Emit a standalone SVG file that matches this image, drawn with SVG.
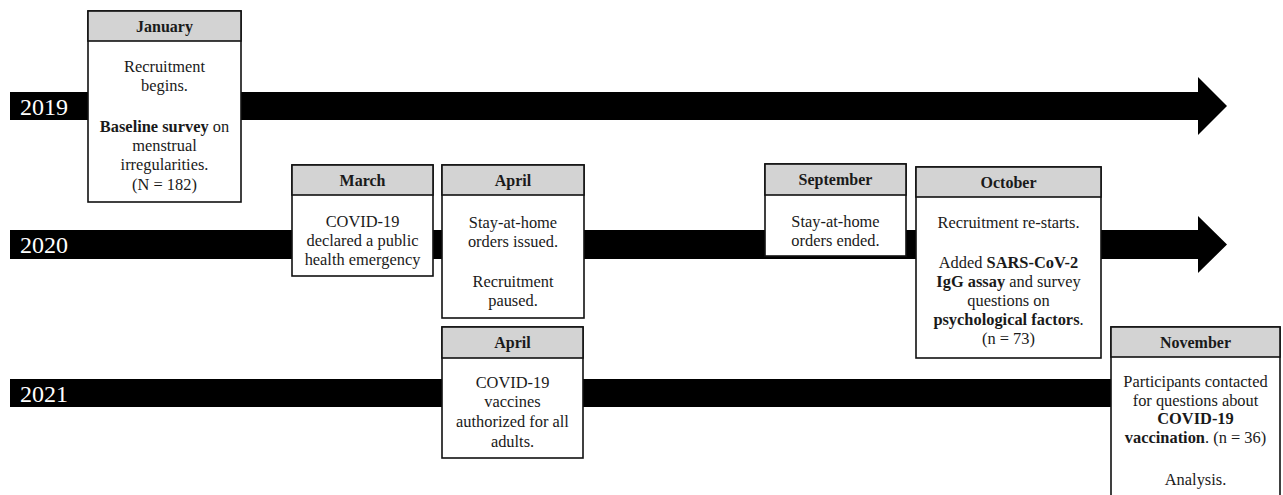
<svg xmlns="http://www.w3.org/2000/svg" width="1283" height="495" viewBox="0 0 1283 495">
<style>
.box{fill:#fff;stroke:#111;stroke-width:1.6}
.hdr{fill:#d3d3d3;stroke:#111;stroke-width:1.6}
text{font-family:'Liberation Serif','Tinos','Times New Roman','DejaVu Serif',serif}
.t{font-size:16.4px;fill:#1a1a1a;text-anchor:middle}
.h{font-size:16px;font-weight:bold;fill:#1a1a1a;text-anchor:middle}
.yr{font-size:24px;fill:#fff}
.b{font-weight:bold}
.bar{fill:#000}
</style>
<rect width="1283" height="495" fill="#fff"/>
<g id="connectors">
  <polygon class="bar" points="10,92 1198,92 1198,77 1227,106 1198,135 1198,120 10,120"/>
  <polygon class="bar" points="10,230 1198,230 1198,216 1227,244.5 1198,273 1198,259 10,259"/>
  <rect class="bar" x="10" y="379" width="1105" height="28"/>
  <text class="yr" x="20" y="115">2019</text>
  <text class="yr" x="20" y="253">2020</text>
  <text class="yr" x="20" y="402">2021</text>
</g>
<g id="january">
  <rect class="box" x="88" y="11" width="153" height="191"/>
  <rect class="hdr" x="88" y="11" width="153" height="30"/>
  <text class="h" x="164.5" y="32">January</text>
  <text class="t" x="164.5" y="72">Recruitment</text>
  <text class="t" x="164.5" y="91">begins.</text>
  <text class="t" x="164.5" y="132"><tspan class="b">Baseline survey</tspan> on</text>
  <text class="t" x="164.5" y="151">menstrual</text>
  <text class="t" x="164.5" y="170">irregularities.</text>
  <text class="t" x="164.5" y="190">(N = 182)</text>
</g>
<g id="march">
  <rect class="box" x="292" y="165" width="141" height="111"/>
  <rect class="hdr" x="292" y="165" width="141" height="30"/>
  <text class="h" x="362.5" y="186">March</text>
  <text class="t" x="362.5" y="227">COVID-19</text>
  <text class="t" x="362.5" y="246">declared a public</text>
  <text class="t" x="362.5" y="265">health emergency</text>
</g>
<g id="april2020">
  <rect class="box" x="442" y="165" width="142" height="153"/>
  <rect class="hdr" x="442" y="165" width="142" height="30"/>
  <text class="h" x="513" y="186">April</text>
  <text class="t" x="513" y="228">Stay-at-home</text>
  <text class="t" x="513" y="247">orders issued.</text>
  <text class="t" x="513" y="287">Recruitment</text>
  <text class="t" x="513" y="306">paused.</text>
</g>
<g id="april2021">
  <rect class="box" x="442" y="327" width="141" height="131"/>
  <rect class="hdr" x="442" y="327" width="141" height="31"/>
  <text class="h" x="512.5" y="348">April</text>
  <text class="t" x="512.5" y="388">COVID-19</text>
  <text class="t" x="512.5" y="407">vaccines</text>
  <text class="t" x="512.5" y="427">authorized for all</text>
  <text class="t" x="512.5" y="447">adults.</text>
</g>
<g id="september">
  <rect class="box" x="765" y="164" width="141" height="92"/>
  <rect class="hdr" x="765" y="164" width="141" height="31"/>
  <text class="h" x="835.5" y="185">September</text>
  <text class="t" x="835.5" y="227">Stay-at-home</text>
  <text class="t" x="835.5" y="246">orders ended.</text>
</g>
<g id="october">
  <rect class="box" x="916" y="167" width="185" height="191"/>
  <rect class="hdr" x="916" y="167" width="185" height="30"/>
  <text class="h" x="1008.5" y="188">October</text>
  <text class="t" x="1008.5" y="228">Recruitment re-starts.</text>
  <text class="t" x="1008.5" y="268">Added <tspan class="b">SARS-CoV-2</tspan></text>
  <text class="t" x="1008.5" y="287"><tspan class="b">IgG assay</tspan> and survey</text>
  <text class="t" x="1008.5" y="306">questions on</text>
  <text class="t" x="1008.5" y="325"><tspan class="b">psychological factors</tspan>.</text>
  <text class="t" x="1008.5" y="344">(n = 73)</text>
</g>
<g id="november">
  <rect class="box" x="1111" y="327" width="169" height="175"/>
  <rect class="hdr" x="1111" y="327" width="169" height="30"/>
  <text class="h" x="1195.5" y="348">November</text>
  <text class="t" x="1195.5" y="387">Participants contacted</text>
  <text class="t" x="1195.5" y="406">for questions about</text>
  <text class="t" x="1195.5" y="424"><tspan class="b">COVID-19</tspan></text>
  <text class="t" x="1195.5" y="443"><tspan class="b">vaccination</tspan>. (n = 36)</text>
  <text class="t" x="1195.5" y="485">Analysis.</text>
</g>
</svg>
